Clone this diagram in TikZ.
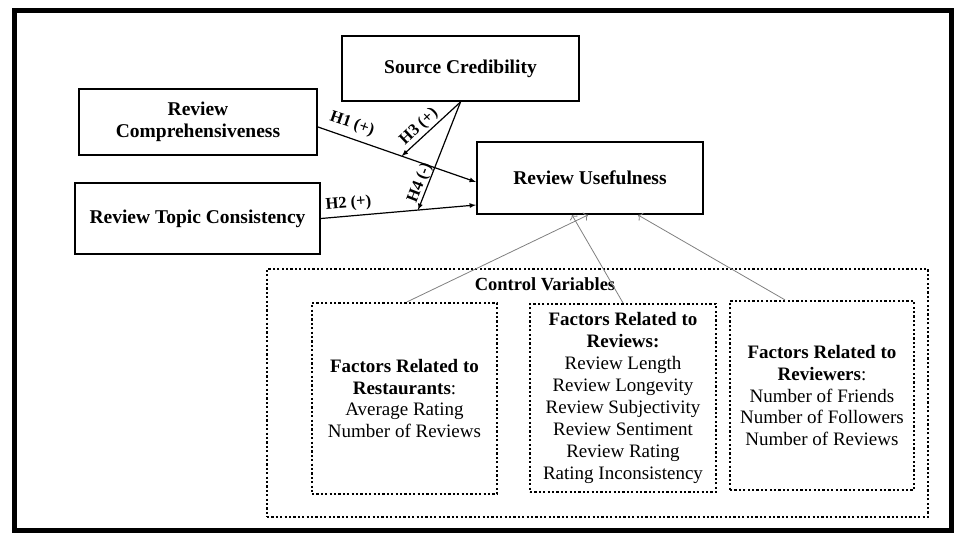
\documentclass[tikz,border=0pt]{standalone}
\usepackage{fontspec}
\setmainfont{Liberation Serif}
\usepackage{tikz}
\usetikzlibrary{calc,arrows,arrows.meta}

\begin{document}
\begin{tikzpicture}[x=1pt, y=-1pt,
        varbox/.style={draw, line width=2pt, align=center, inner sep=2pt,
            font=\fontsize{19.5}{22}\selectfont\bfseries},
        dotbox/.style={draw, line width=2.2pt, dash pattern=on 2.2pt off 2.2pt,
            align=center, font=\fontsize{19}{21.9}\selectfont},
        hyp/.style={draw, line width=1.2pt, -latex},
        ctrl/.style={draw, gray, line width=0.8pt, -{To[length=4pt, width=9pt]}},
        hlabel/.style={font=\fontsize{16.5}{18}\selectfont\bfseries, inner sep=1pt}]

            \useasboundingbox (0,0) rectangle (958,537);
            \draw[line width=5pt] (14,11) rectangle (951,530);

            \node[varbox, minimum width=237pt, minimum height=65pt] (sc) at (460.5,68.5) {Source Credibility};
            \node[varbox, minimum width=238pt, minimum height=66pt] (rc) at (198,122) {Review\\Comprehensiveness};
            \node[varbox, minimum width=245pt, minimum height=71pt] (rtc) at (197.5,218.5) {Review Topic Consistency};
            \node[varbox, minimum width=226pt, minimum height=72pt] (ru) at (590,178) {Review Usefulness};

            % control variables
            \node[dotbox, minimum width=661pt, minimum height=248pt] (cv) at (597.5,393) {};
            \node[font=\fontsize{18.5}{22}\selectfont\bfseries] (cvlabel) at (545,284) {Control Variables};
            \node[dotbox, minimum width=185pt, minimum height=191pt] (fres) at (404.5,398.5)
                {\textbf{Factors Related to}\\\textbf{Restaurants}:\\Average Rating\\Number of Reviews};
            \node[dotbox, minimum width=186pt, minimum height=188pt] (frev) at (623,398)
                {\textbf{Factors Related to}\\\textbf{Reviews:}\\Review Length\\Review Longevity\\Review Subjectivity\\Review Sentiment\\Review Rating\\Rating Inconsistency};
            \node[dotbox, minimum width=184pt, minimum height=189pt] (frvr) at (822,395.5)
                {\textbf{Factors Related to}\\\textbf{Reviewers}:\\Number of Friends\\Number of Followers\\Number of Reviews};

            % hypotheses
            \draw[hyp] ([yshift=-5pt]rc.east) -- coordinate[pos=0.53] (h1mid) ([yshift=-4pt]ru.west);
            \draw[hyp] (rtc.east) -- coordinate[pos=0.626] (h2mid) ([yshift=-27pt]ru.west);
            \draw[hyp] (sc.south) -- (h1mid);
            \draw[hyp] (sc.south) -- (h2mid);

            \node[hlabel, rotate=-19] (h1) at (352,124) {H1 (+)};
            \node[hlabel, rotate=4.8] (h2) at (348.5,203.5) {H2 (+)};
            \node[hlabel, rotate=43.5] (h3) at (419,127) {H3 (+)};
            \node[hlabel, rotate=68.7] (h4) at (420,183) {H4 (-)};

            \draw[ctrl] ([xshift=2.5pt]fres.north) -- ([xshift=-2pt]ru.south);
            \draw[ctrl] (frev.north) -- ([xshift=-18pt]ru.south);
            \draw[ctrl] ([xshift=-37pt]frvr.north) -- ([xshift=48pt]ru.south);
        \end{tikzpicture}
\end{document}
